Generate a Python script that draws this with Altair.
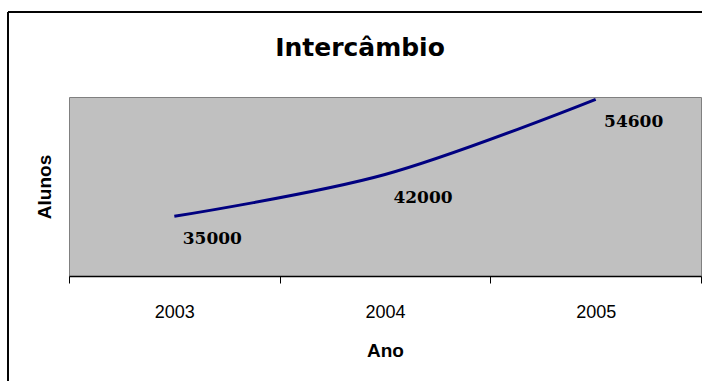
import altair as alt
import pandas as pd

anos = ["2003", "2004", "2005"]
alunos = [35000, 42000, 54600]

df = pd.DataFrame({"Ano": anos, "Alunos": alunos})

base = alt.Chart(df)

x_enc = alt.X(
    "Ano:O",
    bandPosition=0.5,
    scale=alt.Scale(type="band", paddingInner=0, paddingOuter=0),
    axis=alt.Axis(
        title="Ano",
        labelAngle=0,
        labelFont="Liberation Sans",
        labelFontSize=18,
        labelColor="#000000",
        labelPadding=20,
        tickBand="extent",
        tickSize=7,
        tickColor="#000000",
        domainColor="#000000",
        domainWidth=1.5,
        titleFont="Liberation Sans",
        titleFontSize=19,
        titleFontWeight="bold",
        titleColor="#000000",
        titlePadding=20,
        grid=False,
    ),
)
y_enc = alt.Y(
    "Alunos:Q",
    scale=alt.Scale(domain=[25000, 55000], nice=False, zero=False),
    axis=alt.Axis(
        title="Alunos",
        labels=False,
        ticks=False,
        domain=False,
        grid=False,
        titleFont="Liberation Sans",
        titleFontSize=19,
        titleFontWeight="bold",
        titleColor="#000000",
        titlePadding=15,
    ),
)

line = base.mark_line(color="#000080", strokeWidth=3, interpolate="catmull-rom").encode(
    x=x_enc, y=y_enc
)

labels = base.mark_text(
    font="DejaVu Serif",
    fontSize=17,
    fontWeight="bold",
    color="#000000",
    dx=38,
    dy=23,
    align="center",
    baseline="middle",
).encode(x=x_enc, y=y_enc, text=alt.Text("Alunos:Q", format="d"))

frame_left = alt.Chart(df).mark_rule(color="#000000", strokeWidth=1.5).encode(
    x=alt.value(-61), y=alt.value(-85), y2=alt.value(300)
)
frame_top = alt.Chart(df).mark_rule(color="#000000", strokeWidth=1.5).encode(
    x=alt.value(-61), x2=alt.value(640), y=alt.value(-85)
)

chart = (
    alt.layer(line, labels, frame_left, frame_top)
    .properties(
        width=632,
        height=179,
        title=alt.TitleParams(
            text="Intercâmbio",
            font="DejaVu Sans",
            fontSize=25,
            fontWeight="bold",
            color="#000000",
            anchor="middle",
            frame="group",
            dx=-25,
            offset=-70,
            baseline="alphabetic",
        ),
        autosize=alt.AutoSizeParams(type="none"),
        padding={"left": 69, "top": 97, "right": 1, "bottom": 105},
        background="#FFFFFF",
    )
    .configure_view(fill="#C0C0C0", stroke="#808080", strokeWidth=1)
)

chart.save("out.html", embed_options={"renderer": "svg", "actions": False})
